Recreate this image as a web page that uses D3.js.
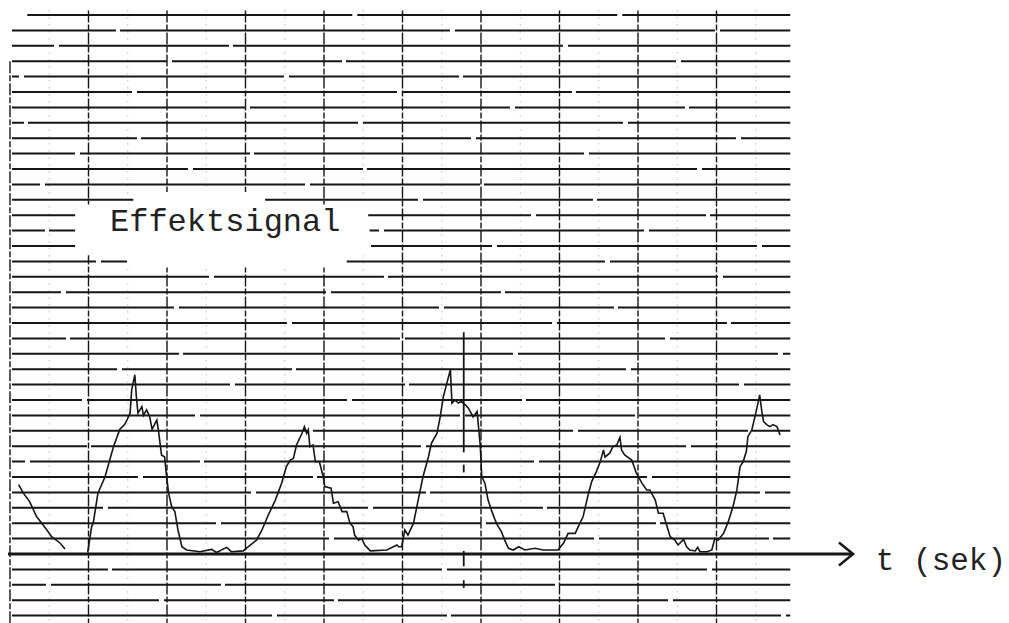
<!DOCTYPE html>
<html>
<head>
<meta charset="utf-8">
<script src="https://cdn.jsdelivr.net/npm/d3@7"></script>
<style>
  body { margin: 0; background: #fff; }
  svg { display: block; }
</style>
</head>
<body>
<svg id="chart" width="1009" height="623"></svg>
<script>
// t in tenths of a major division, v in grid rows above the zero line

// left tail, before the pen lifts
const tTail = [1.1, 1.7, 2.5, 3.4, 4.0, 4.7, 5.3, 6.4, 7.0];
const vTail = [4.5, 3.95, 3.4, 2.42, 2.03, 1.56, 1.12, 0.7, 0.33];

// main trace
const tMain = [9.9, 10.4, 10.6, 11.2, 12.1, 13.2, 14.0, 14.6, 14.9, 15.3, 15.5, 15.9, 16.1, 16.3, 16.8, 17.0, 17.4, 17.8, 18.1, 18.7,
  18.9, 19.3, 19.7, 19.9, 20.2, 20.6, 21.0, 21.4, 21.9, 22.5, 24.2, 25.7, 26.3, 27.6, 28.2, 29.7, 30.6, 31.4, 32.1, 32.9,
  33.8, 34.6, 35.2, 35.7, 36.1, 36.5, 37.2, 37.5, 37.8, 38.0, 38.2, 38.6, 38.9, 39.4, 39.9, 40.1, 40.9, 41.2, 41.8, 42.3,
  42.9, 43.3, 43.7, 43.9, 44.4, 44.8, 45.2, 45.9, 48.0, 49.3, 49.5, 49.9, 50.3, 50.7, 51.4, 52.0, 52.6, 53.3, 53.7, 54.4,
  54.8, 55.2, 55.6, 56.1, 56.3, 56.7, 57.1, 57.5, 58.0, 58.4, 59.0, 59.5, 59.7, 59.9, 60.1, 60.5, 60.9, 61.4, 61.8, 62.2,
  62.6, 63.1, 63.5, 64.1, 64.8, 65.6, 66.9, 67.9, 69.8, 70.5, 71.1, 72.0, 72.6, 73.0, 73.7, 74.1, 74.7, 75.2, 75.6, 75.8,
  76.4, 76.8, 77.3, 77.7, 77.9, 78.3, 79.2, 79.8, 80.5, 81.1, 81.5, 82.2, 82.6, 83.2, 83.7, 84.1, 84.7, 85.1, 85.8, 86.2,
  86.6, 87.3, 87.6, 87.9, 88.8, 89.4, 89.8, 90.2, 90.9, 91.5, 92.1, 92.6, 93.0, 93.4, 93.8, 94.0, 94.5, 95.1, 95.5, 95.8,
  96.0, 96.4, 96.8, 97.2, 97.7, 98.1];
const vMain = [0.1, 1.78, 2.0, 3.95, 5.0, 7.0, 8.1, 8.4, 8.7, 9.15, 10.66, 11.63, 10.2, 9.15, 9.57, 9.0, 9.36, 8.9, 8.1, 8.7,
  8.06, 6.43, 6.3, 5.25, 3.95, 3.07, 2.75, 1.56, 0.47, 0.26, 0.15, 0.3, 0.1, 0.43, 0.15, 0.2, 0.58, 0.9, 1.56, 2.53,
  3.5, 4.6, 5.67, 6.1, 6.2, 7.08, 7.84, 8.27, 7.84, 8.06, 6.97, 7.08, 6.0, 6.0, 5.03, 4.38, 4.27, 3.3, 3.4, 2.75,
  2.75, 2.0, 1.78, 1.23, 0.9, 1.02, 0.58, 0.2, 0.26, 0.58, 0.47, 0.47, 1.56, 1.23, 2.0, 3.5, 5.0, 6.3, 7.2, 7.84,
  8.9, 10.2, 11.0, 11.96, 9.8, 10.0, 9.8, 9.9, 9.68, 9.47, 8.9, 9.25, 8.17, 7.08, 5.03, 4.6, 3.5, 2.75, 2.2, 1.78,
  1.45, 0.8, 0.37, 0.26, 0.47, 0.26, 0.37, 0.26, 0.26, 0.7, 1.34, 1.34, 2.0, 2.42, 3.95, 4.7, 5.35, 6.0, 6.76, 6.3,
  6.55, 6.97, 7.08, 7.58, 6.76, 6.43, 6.1, 5.25, 4.6, 4.16, 4.16, 3.5, 2.65, 2.65, 1.78, 1.12, 0.9, 0.58, 0.95, 0.47,
  0.26, 0.2, 0.43, 0.15, 0.15, 0.26, 1.02, 0.9, 1.34, 2.1, 3.07, 4.16, 5.67, 6.0, 6.65, 7.62, 8.06, 9.36, 10.33, 9.15,
  8.6, 8.4, 8.27, 8.4, 8.27, 7.73];

// event marker pen (vertical strokes)
const tMarker = 57.8;
const vMarkerFrom = [14.4, 5.8, 0.2, -1.7];
const vMarkerTo = [6.6, 5.3, -0.8, -2.2];

// chart paper
const gridRows = d3.range(-4, 36);
const gridCols = d3.range(0, 100, 10);
const minorCols = d3.range(5, 100, 10);

const labelText = "Effektsignal";
const axisText = "t (sek)";

const svg = d3.select("#chart");
const x = d3.scaleLinear().domain([0, 100]).range([10, 795]);
const y = d3.scaleLinear().domain([0, 35]).range([554, 15]);

const ink = "#161616";

// minor dotted verticals
svg.append("g")
  .selectAll("line")
  .data(minorCols)
  .join("line")
    .attr("x1", d => x(d)).attr("x2", d => x(d))
    .attr("y1", y(35.3)).attr("y2", y(-4.4))
    .attr("stroke", "#999")
    .attr("stroke-width", 1)
    .attr("stroke-dasharray", "1,6");

// horizontal rulings, a little broken like the scan
svg.append("g")
  .selectAll("line")
  .data(gridRows.filter(d => d !== 0))
  .join("line")
    .attr("x1", d => d === 35 ? x(2.2) : x(0.25))
    .attr("x2", x(99.4))
    .attr("y1", d => y(d)).attr("y2", d => y(d))
    .attr("stroke", ink)
    .attr("stroke-width", 2)
    .attr("stroke-dasharray", "260,5,170,4,330,5")
    .attr("stroke-dashoffset", (d, i) => (i * 113) % 770);

// major verticals
svg.append("g")
  .selectAll("line")
  .data(gridCols)
  .join("line")
    .attr("x1", d => x(d)).attr("x2", d => x(d))
    .attr("y1", d => d === 0 ? y(32) : y(35.3))
    .attr("y2", y(-4.5))
    .attr("stroke", ink)
    .attr("stroke-width", 1.4)
    .attr("stroke-dasharray", "12,2,6,2");

// blank patch where the label was written
const maskT = [15.7, 32.5, 32.5, 45.5, 46.1, 42.9, 42.9, 14.9, 14.9, 8.3, 8.3, 15.7];
const maskV = [23.5, 23.5, 22.7, 22.7, 19.4, 19.4, 18.6, 18.6, 19.4, 19.4, 22.7, 22.7];
svg.append("path")
  .attr("d", d3.line()(maskT.map((t, i) => [x(t), y(maskV[i])])) + "Z")
  .attr("fill", "#fff");

svg.append("text")
  .attr("x", x(12.74))
  .attr("y", y(20.95))
  .attr("font-family", "'Liberation Mono', 'DejaVu Sans Mono', monospace")
  .attr("font-size", 32)
  .attr("fill", "#222")
  .text(labelText);

// time axis with arrow
svg.append("line")
  .attr("x1", x(-0.25)).attr("x2", x(107.2))
  .attr("y1", y(0)).attr("y2", y(0))
  .attr("stroke", ink)
  .attr("stroke-width", 3.2);

svg.append("path")
  .attr("d", d3.line()([[x(105.6), y(0.75)], [x(107.4), y(0)], [x(105.6), y(-0.75)]]))
  .attr("fill", "none")
  .attr("stroke", ink)
  .attr("stroke-width", 2.5);

svg.append("text")
  .attr("x", x(110.3))
  .attr("y", y(-1.04))
  .attr("font-family", "'Liberation Mono', 'DejaVu Sans Mono', monospace")
  .attr("font-size", 31)
  .attr("fill", "#222")
  .text(axisText);

// signal trace
const trace = d3.line().x(d => x(d[0])).y(d => y(d[1]));

svg.append("path")
  .attr("d", trace(tTail.map((t, i) => [t, vTail[i]])))
  .attr("fill", "none")
  .attr("stroke", ink)
  .attr("stroke-width", 1.6);

svg.append("path")
  .attr("d", trace(tMain.map((t, i) => [t, vMain[i]])))
  .attr("fill", "none")
  .attr("stroke", ink)
  .attr("stroke-width", 1.6);

svg.append("g")
  .selectAll("line")
  .data(vMarkerFrom)
  .join("line")
    .attr("x1", x(tMarker)).attr("x2", x(tMarker))
    .attr("y1", d => y(d))
    .attr("y2", (d, i) => y(vMarkerTo[i]))
    .attr("stroke", ink)
    .attr("stroke-width", 1.8);
</script>
</body>
</html>
